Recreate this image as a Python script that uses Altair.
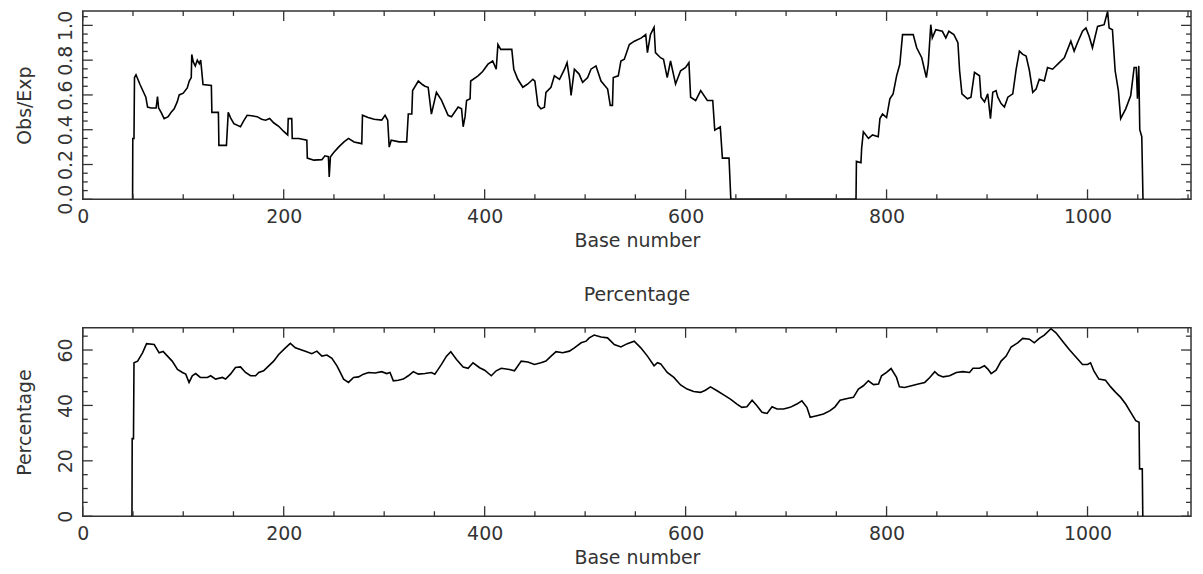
import altair as alt
import pandas as pd

# ---------------- data ----------------
obs_x = [49.6, 49.8, 51, 51.5, 53, 57, 62.8, 64.5, 68, 73, 74.4, 75.5, 78, 81, 85, 88, 91, 94, 96, 100,
         104, 106, 108, 108.5, 110, 112, 114, 116, 117.4, 119.7, 128, 128.5, 135, 135.5, 143, 144.8, 147, 150.4, 157, 160,
         163.6, 168, 173.6, 178, 182, 186, 190, 195, 200, 204, 204.5, 208, 208.5, 215, 223, 223.5, 230, 238, 241, 244.5,
         245.3, 246.5, 250, 254.6, 260, 264.5, 270, 277.7, 278.4, 284, 290, 297.5, 300.9, 303.5, 305, 307, 315, 322.4, 324, 327.5,
         328.3, 334, 338, 340.5, 343.8, 347, 352, 357, 363.6, 367, 373.6, 377, 378.6, 380.5, 382, 385.5, 386.1, 393.4, 398, 403.3,
         408, 411.5, 413.2, 416, 427, 429, 433, 438, 443, 448, 450, 453, 456, 459.5, 461, 466, 469.4, 474.5, 479.5, 482,
         484.5, 486, 489.3, 494, 497.5, 502.5, 505.8, 510.8, 515.8, 522.4, 525, 527.2, 528, 533, 535.6, 539, 544, 549, 556, 560.3,
         562, 565, 568.6, 570, 575, 578, 581.7, 585, 590, 595, 600, 603.3, 605, 610, 615, 621.6, 627, 629, 634.5, 636.6,
         643.2, 645, 769.6, 770, 774.5, 775.2, 776.9, 782, 786, 791.7, 793.4, 796, 800, 803.3, 806.5, 810, 813.2, 815.9, 826.5, 830,
         835, 839.6, 841.5, 844, 845.5, 849, 855.5, 859, 862, 867, 871, 872.7, 875, 880.5, 884, 887.5, 892.5, 894, 897.5, 900.7,
         903.4, 905.7, 909, 910.7, 914, 917.3, 920.7, 925.6, 929, 932.2, 935.6, 938.9, 942.2, 945.5, 948.8, 952, 957, 960.2, 965.2, 971.9,
         976.9, 983.4, 986.7, 990, 995, 998.4, 1001.6, 1004.9, 1010, 1016.5, 1020, 1021.5, 1024.8, 1027.5, 1030.7, 1033, 1038, 1043, 1046.4, 1048.5,
         1049.7, 1051, 1052, 1054, 1055.2]
obs_y = [0, 0.35, 0.35, 0.70, 0.716, 0.66, 0.587, 0.53, 0.525, 0.525, 0.59, 0.525, 0.50, 0.464, 0.475, 0.50, 0.52, 0.56, 0.60, 0.61,
         0.64, 0.68, 0.70, 0.833, 0.79, 0.767, 0.80, 0.78, 0.80, 0.66, 0.655, 0.50, 0.50, 0.31, 0.31, 0.50, 0.47, 0.435, 0.417, 0.45,
         0.483, 0.48, 0.475, 0.46, 0.455, 0.465, 0.44, 0.42, 0.39, 0.37, 0.464, 0.464, 0.35, 0.35, 0.34, 0.237, 0.225, 0.228, 0.25, 0.245,
         0.129, 0.245, 0.27, 0.30, 0.33, 0.35, 0.33, 0.32, 0.483, 0.47, 0.46, 0.455, 0.483, 0.455, 0.30, 0.34, 0.33, 0.33, 0.49, 0.49,
         0.625, 0.68, 0.66, 0.65, 0.644, 0.49, 0.615, 0.57, 0.483, 0.475, 0.53, 0.52, 0.417, 0.475, 0.568, 0.578, 0.68, 0.71, 0.735, 0.777,
         0.795, 0.748, 0.89, 0.862, 0.862, 0.748, 0.69, 0.644, 0.663, 0.69, 0.68, 0.54, 0.52, 0.53, 0.615, 0.644, 0.71, 0.69, 0.748, 0.786,
         0.69, 0.597, 0.748, 0.72, 0.672, 0.70, 0.748, 0.767, 0.68, 0.634, 0.54, 0.54, 0.70, 0.71, 0.795, 0.805, 0.89, 0.909, 0.928, 0.947,
         0.843, 0.947, 0.989, 0.843, 0.814, 0.805, 0.70, 0.795, 0.663, 0.739, 0.758, 0.786, 0.587, 0.568, 0.625, 0.568, 0.568, 0.398, 0.417, 0.237,
         0.237, 0, 0, 0.218, 0.21, 0.294, 0.388, 0.35, 0.37, 0.36, 0.464, 0.49, 0.47, 0.578, 0.606, 0.71, 0.776, 0.947, 0.947, 0.871,
         0.814, 0.70, 0.776, 1.004, 0.928, 0.975, 0.966, 0.928, 0.966, 0.947, 0.90, 0.739, 0.606, 0.578, 0.587, 0.73, 0.71, 0.587, 0.56, 0.606,
         0.464, 0.615, 0.625, 0.587, 0.55, 0.53, 0.587, 0.606, 0.748, 0.852, 0.833, 0.824, 0.739, 0.615, 0.634, 0.69, 0.68, 0.758, 0.748, 0.786,
         0.814, 0.909, 0.852, 0.90, 0.966, 0.985, 0.937, 0.871, 0.994, 1.004, 1.08, 0.985, 0.975, 0.739, 0.625, 0.464, 0.52, 0.597, 0.758, 0.758,
         0.578, 0.767, 0.40, 0.36, 0]

pct_x = [49, 49.2, 50.5, 51, 54.6, 59.5, 63.5, 71.1, 76, 80, 84.3, 89, 94.3, 99.2, 102.5, 105.8, 109, 112.4, 117, 124,
         127.3, 132.2, 139, 142.2, 147, 152, 157, 162, 167, 172, 175.2, 180, 185.1, 190, 195, 201.7, 206.6, 211.6, 216.5, 221.5,
         228, 233, 238, 243, 248, 253, 256.3, 259.6, 264.5, 269.5, 274.5, 279.4, 284.4, 291, 297.5, 302.5, 305.8, 309.1, 314, 319,
         324, 329, 334, 340.5, 347, 350.4, 353.7, 357, 362, 366.3, 372, 378.6, 383.5, 388.4, 395, 400, 406.6, 411.5, 416.5, 424.7,
         429.7, 436.4, 443, 449.6, 456, 461, 466.1, 471, 477.7, 484.3, 489.3, 496, 501, 504.1, 509, 515.8, 522.3, 529, 535.6, 542,
         548.8, 555.4, 562, 568.6, 572, 575.2, 581.7, 588.3, 595, 601.5, 608, 614.8, 619.7, 624.7, 631.3, 637.9, 644.6, 651.1, 656, 661,
         666.2, 671, 676, 681.1, 686, 691, 697.5, 704, 710.7, 715.7, 720.7, 724, 730.6, 737.2, 743.8, 748.7, 753.7, 762, 767, 772,
         776.9, 781.9, 787, 792, 795, 800, 804.5, 809.9, 812.8, 817.8, 824.8, 831.5, 838, 843, 848, 851.5, 856.2, 862.8, 869.4, 876,
         882.6, 886, 892.5, 897.5, 900.8, 904.1, 909, 914, 919, 924, 930.5, 935.5, 942.2, 947, 952, 957, 963.6, 968.6, 975.2, 981.8,
         988.4, 995, 1000, 1003, 1006.3, 1011.3, 1017.9, 1023, 1028, 1033, 1038, 1043, 1048, 1051.3, 1051.8, 1054.5, 1055]
pct_y = [0, 28, 28, 55.4, 56, 59, 62.3, 62, 59, 59.5, 57.8, 56, 53, 51.9, 51.3, 48.3, 50.7, 51.5, 50.1, 50.1,
         50.7, 49.5, 50.1, 49.5, 51.3, 53.7, 53.9, 51.9, 50.7, 50.7, 51.9, 52.5, 54.3, 56, 58.4, 60.8, 62.4, 60.8, 60.2, 59.6,
         58.7, 59.6, 57.8, 58.2, 57, 54.3, 51.9, 49.5, 48.3, 50.1, 50.3, 51.3, 51.9, 51.7, 52.2, 51.5, 51.9, 48.9, 49.1, 49.5,
         50.7, 52.2, 51.3, 51.5, 51.9, 51.3, 53, 54.8, 57.8, 59.4, 56.6, 53.9, 53.4, 55.4, 53.6, 52.7, 50.7, 52.5, 53.4, 53,
         52.5, 56, 55.7, 54.8, 55.4, 56, 57.8, 59.4, 59, 59.6, 60.8, 62.6, 63.2, 64.4, 65.4, 64.7, 64.4, 62, 61.1, 62.3,
         63.2, 60.8, 57.8, 54.3, 55.4, 55, 51.9, 50.1, 47.4, 45.9, 45, 44.7, 45.5, 46.7, 45.3, 43.8, 42.3, 40.5, 39.3, 39.5,
         41.9, 39.9, 37.5, 37.1, 39.5, 38.7, 38.7, 39.3, 40.5, 41.7, 39.3, 35.7, 36.3, 36.9, 38.1, 39.5, 41.9, 42.6, 42.9, 45.9,
         47.1, 48.9, 47.5, 47.7, 50.7, 51.9, 53.3, 50.1, 46.7, 46.5, 47.1, 47.7, 48.3, 50.1, 52.2, 51, 50.3, 50.7, 51.9, 52.2,
         51.9, 53.4, 53.4, 54.3, 53.1, 51.5, 52.7, 56, 57.8, 61.1, 62.6, 64.2, 63.9, 62.6, 64.2, 65.4, 67.7, 66.2, 63.2, 60.2,
         57.5, 54.8, 54.8, 55.4, 52.5, 49.5, 49.1, 46.7, 44.7, 42.9, 40.5, 37.5, 34.5, 33.9, 17.1, 17.1, 0]

x_major = [0, 200, 400, 600, 800, 1000]
x_minor = [50, 100, 150, 250, 300, 350, 450, 500, 550, 650, 700, 750, 850, 900, 950, 1050, 1100]
obs_major = [0.0, 0.2, 0.4, 0.6, 0.8, 1.0]
obs_minor = [0.05, 0.1, 0.15, 0.25, 0.3, 0.35, 0.45, 0.5, 0.55, 0.65, 0.7, 0.75, 0.85, 0.9, 0.95, 1.05]
pct_major = [0, 20, 40, 60]
pct_minor = [5, 10, 15, 25, 30, 35, 45, 50, 55, 65]

# ---------------- styling ----------------
FONT = "DejaVu Sans"
INK = "#333333"
FS = 19
XMAX = 1103
W = 1112


def panel(xs, ys, ydom, ymaj, ymin, ytitle, yfmt, H, title=None):
    df = pd.DataFrame({"x": xs, "y": ys})
    xscale = alt.Scale(domain=[0, XMAX], nice=False, zero=False)
    yscale = alt.Scale(domain=ydom, nice=False, zero=False)
    xaxis = alt.Axis(values=x_major, title="Base number", ticks=False, domain=False, grid=False,
                     labelPadding=8, titlePadding=5, format="d", labelFlush=False, labelOverlap=False)
    yaxis = alt.Axis(values=ymaj, title=ytitle, ticks=False, domain=False, grid=False,
                     labelAngle=270, labelAlign="center", labelBaseline="bottom",
                     labelPadding=7, titlePadding=22, format=yfmt,
                     labelFlush=False, labelOverlap=False)

    def x_ticks(vals, length, top):
        tdf = pd.DataFrame({"x": vals})
        y0, y1 = (0, length) if top else (H, H - length)
        return alt.Chart(tdf).mark_rule(color=INK, strokeWidth=1.3).encode(
            x=alt.X("x:Q", scale=xscale, axis=xaxis),
            y=alt.value(y0), y2=alt.value(y1))

    def y_ticks(vals, length, right):
        tdf = pd.DataFrame({"y": vals})
        x0, x1 = (W, W - length) if right else (0, length)
        return alt.Chart(tdf).mark_rule(color=INK, strokeWidth=1.3).encode(
            y=alt.Y("y:Q", scale=yscale, axis=yaxis),
            x=alt.value(x0), x2=alt.value(x1))

    line = alt.Chart(df).mark_line(color="black", strokeWidth=1.6, clip=True).encode(
        x=alt.X("x:Q", scale=xscale, axis=xaxis),
        y=alt.Y("y:Q", scale=yscale, axis=yaxis),
        order=alt.Order("x:Q"),
    )
    layers = [line,
              x_ticks(x_major, 10, False), x_ticks(x_minor, 5, False),
              x_ticks(x_major, 10, True), x_ticks(x_minor, 5, True),
              y_ticks(ymaj, 10, False), y_ticks(ymin, 5, False),
              y_ticks(ymaj, 10, True), y_ticks(ymin, 5, True)]
    props = dict(width=W, height=H)
    if title:
        props["title"] = alt.Title(title, anchor="middle", offset=22)
    return alt.layer(*layers).properties(**props)


top = panel(obs_x, obs_y, [0, 1.083], obs_major, obs_minor, "Obs/Exp", ".1f", 189)
bottom = panel(pct_x, pct_y, [0, 68], pct_major, pct_minor, "Percentage", "d", 189, title="Percentage")

chart = alt.vconcat(top, bottom, spacing=34).properties(
    padding={"left": 7, "top": 0, "right": 2, "bottom": 0}
).configure_view(
    stroke=INK, strokeWidth=1.5
).configure_axis(
    labelFont=FONT, labelFontSize=FS, labelColor=INK,
    titleFont=FONT, titleFontSize=FS, titleColor=INK, titleFontWeight="normal"
).configure_title(
    font=FONT, fontSize=FS, color=INK, fontWeight="normal"
)

chart.save("out.html", embed_options={"renderer": "svg", "actions": False})
